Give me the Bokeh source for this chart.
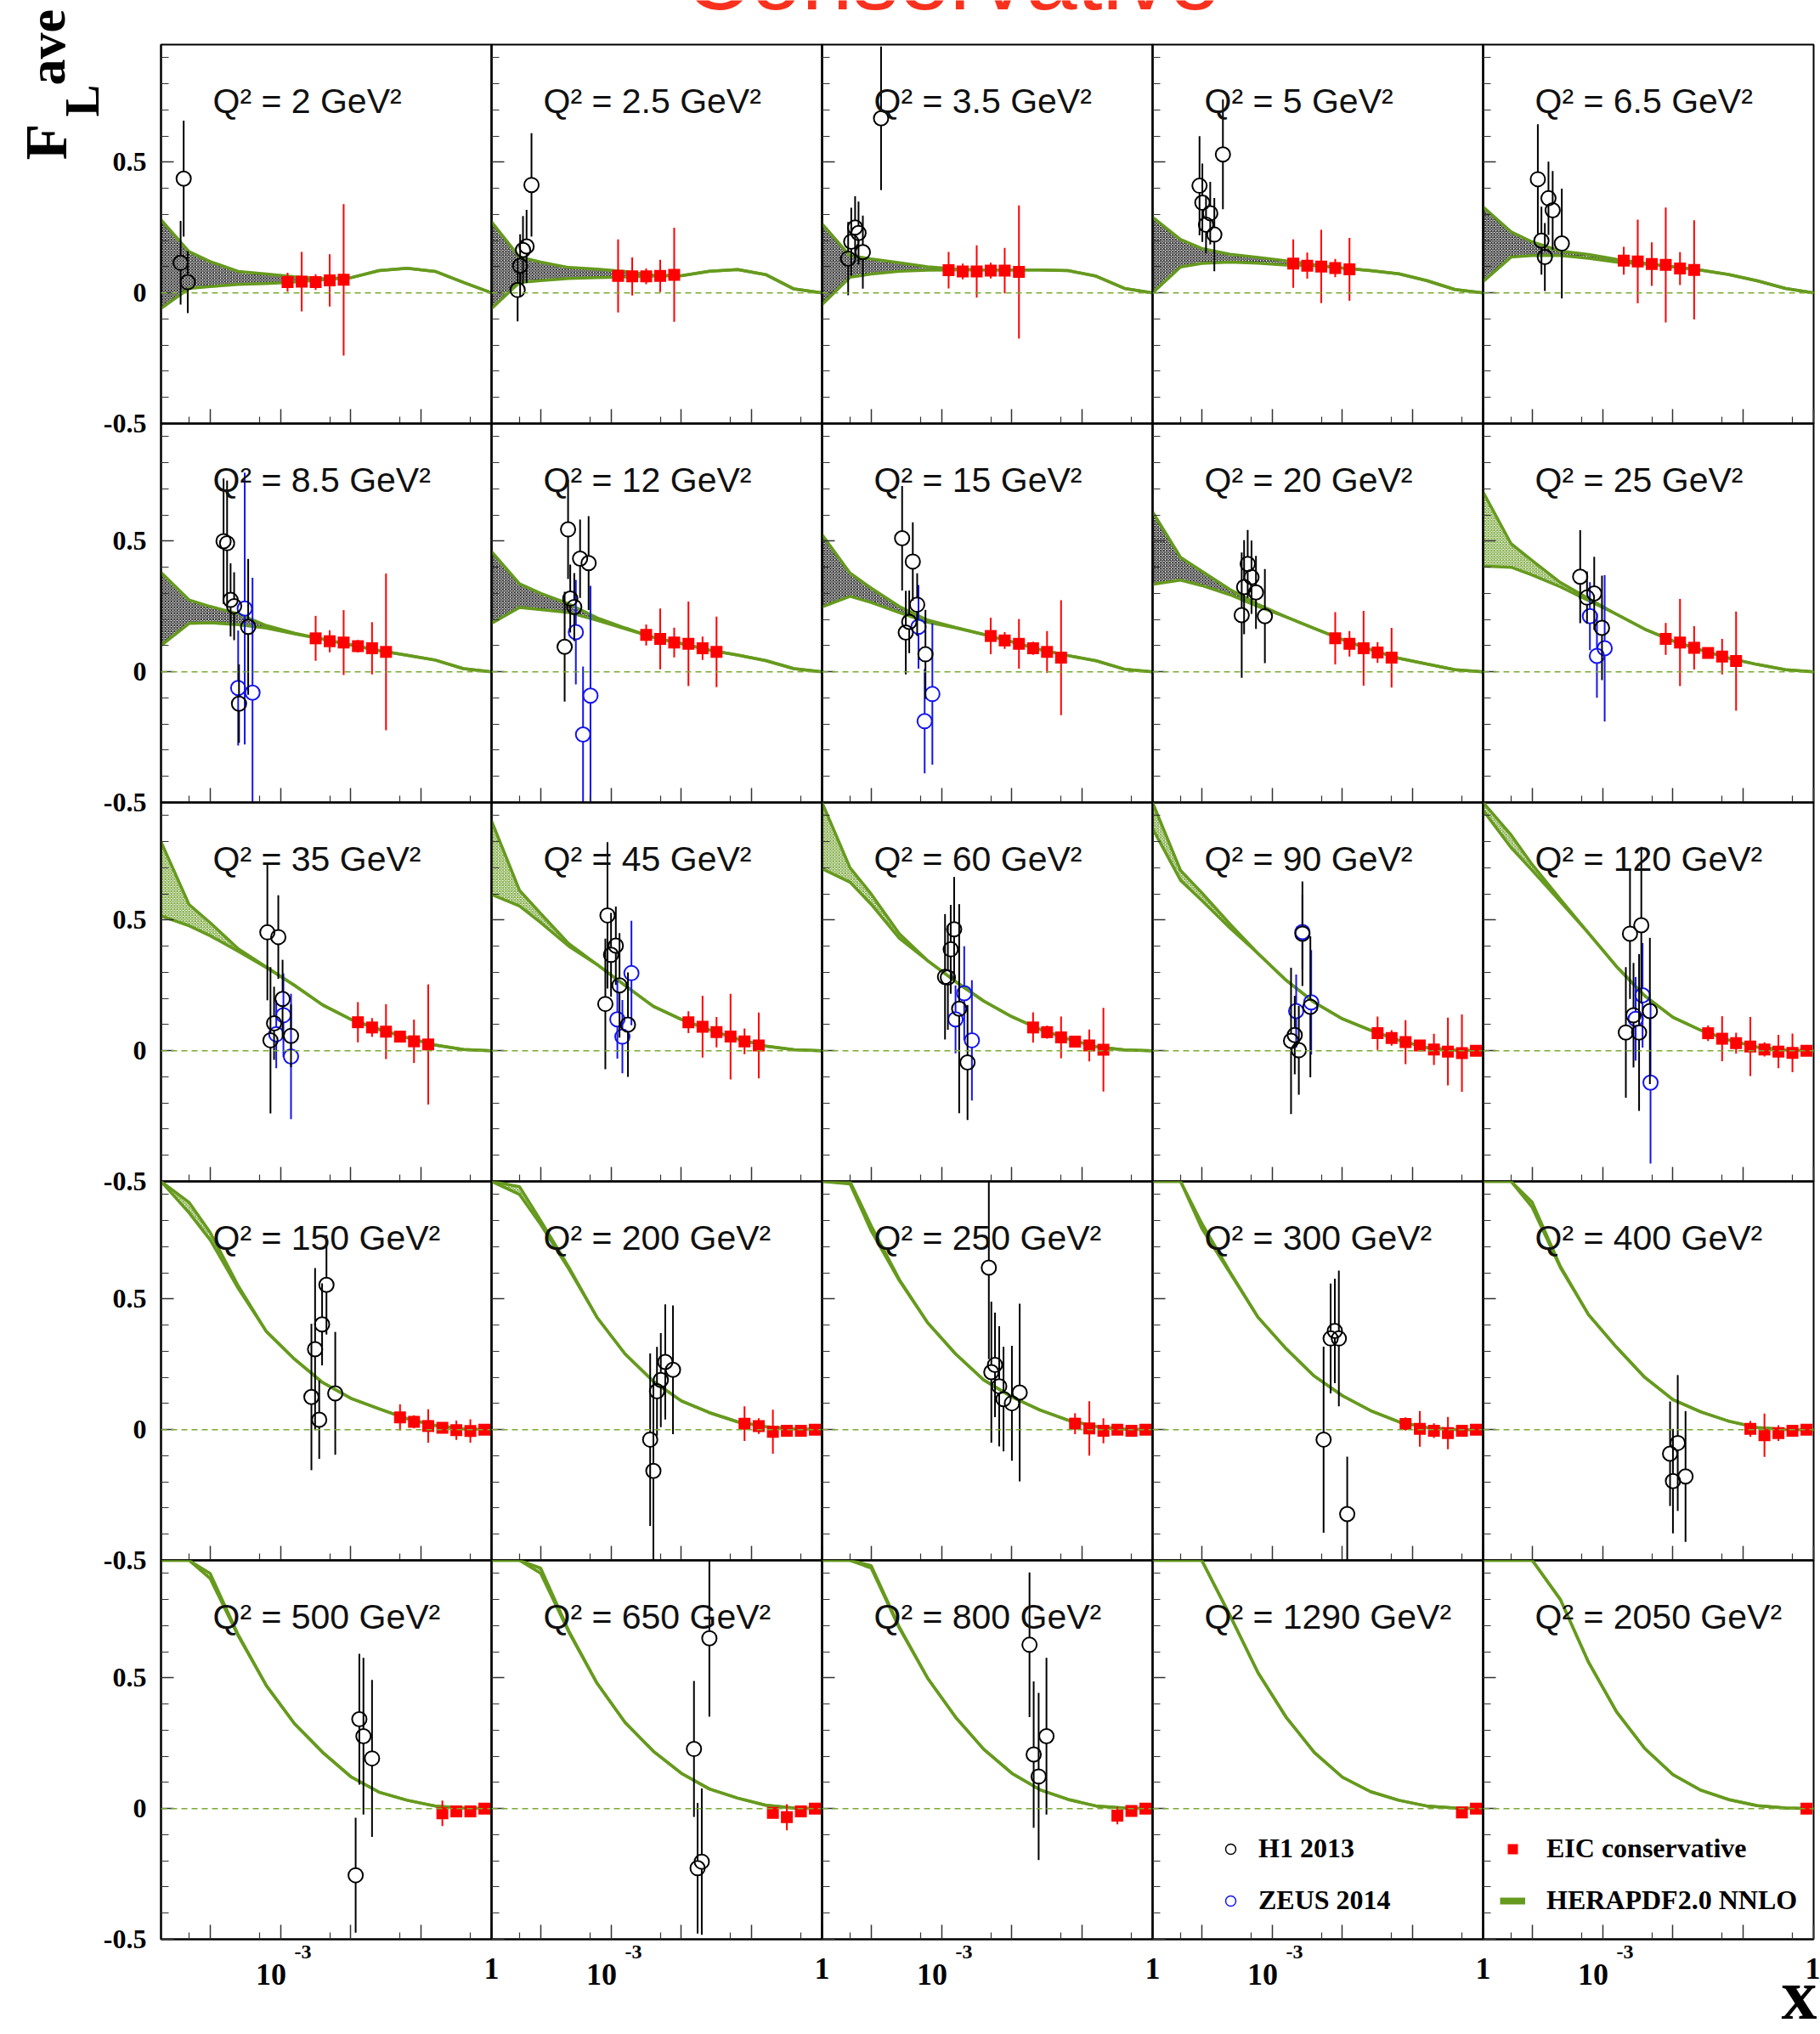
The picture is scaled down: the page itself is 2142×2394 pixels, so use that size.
import numpy as np
from bokeh.plotting import figure
from bokeh.layouts import column, row
from bokeh.models import Range1d, FixedTicker, Span, Label, Legend, LegendItem
from bokeh.embed import file_html
from bokeh.resources import INLINE

# ---------------- data ----------------
Q2 = [2, 2.5, 3.5, 5, 6.5, 8.5, 12, 15, 20, 25, 35, 45, 60, 90, 120,
      150, 200, 250, 300, 400, 500, 650, 800, 1290, 2050]

# HERAPDF2.0 NNLO band, sampled at these x values
X_GRID = [2.0e-5, 5.0e-5, 1.0e-4, 2.51e-4, 6.31e-4, 1.58e-3, 3.98e-3,
          1.0e-2, 2.51e-2, 6.31e-2, 0.158, 0.398, 1.0]
BAND_LO = [
    [-0.06, 0.017, 0.024, 0.032, 0.036, 0.041, 0.05, 0.058, 0.085, 0.094, 0.082, 0.04, 0.0],
    [-0.06, 0.04, 0.047, 0.055, 0.058, 0.061, 0.064, 0.066, 0.083, 0.089, 0.07, 0.015, 0.0],
    [-0.045, 0.06, 0.072, 0.083, 0.087, 0.088, 0.088, 0.088, 0.088, 0.085, 0.064, 0.017, 0.0],
    [0.0, 0.099, 0.113, 0.118, 0.114, 0.106, 0.104, 0.095, 0.085, 0.073, 0.047, 0.013, 0.0],
    [0.043, 0.137, 0.143, 0.143, 0.132, 0.118, 0.11, 0.1, 0.087, 0.07, 0.046, 0.017, 0.0],
    [0.1, 0.185, 0.188, 0.18, 0.167, 0.145, 0.125, 0.103, 0.081, 0.063, 0.045, 0.012, 0.0],
    [0.185, 0.246, 0.238, 0.227, 0.197, 0.165, 0.132, 0.108, 0.083, 0.064, 0.043, 0.012, 0.0],
    [0.248, 0.289, 0.265, 0.226, 0.19, 0.168, 0.143, 0.115, 0.085, 0.062, 0.042, 0.01, 0.0],
    [0.335, 0.351, 0.33, 0.295, 0.25, 0.21, 0.166, 0.123, 0.085, 0.052, 0.03, 0.008, 0.0],
    [0.405, 0.4, 0.37, 0.325, 0.272, 0.22, 0.163, 0.118, 0.083, 0.052, 0.028, 0.008, 0.0],
    [0.516, 0.478, 0.44, 0.38, 0.318, 0.25, 0.175, 0.12, 0.082, 0.05, 0.022, 0.005, 0.0],
    [0.598, 0.554, 0.49, 0.4, 0.33, 0.25, 0.17, 0.12, 0.08, 0.045, 0.018, 0.004, 0.0],
    [0.696, 0.645, 0.56, 0.43, 0.345, 0.265, 0.19, 0.13, 0.082, 0.045, 0.015, 0.003, 0.0],
    [0.85, 0.652, 0.575, 0.47, 0.372, 0.27, 0.185, 0.122, 0.078, 0.04, 0.012, 0.002, 0.0],
    [0.92, 0.777, 0.69, 0.57, 0.45, 0.322, 0.21, 0.128, 0.078, 0.04, 0.014, 0.003, 0.0],
    [0.95, 0.83, 0.726, 0.54, 0.375, 0.27, 0.18, 0.12, 0.08, 0.042, 0.016, 0.003, 0.0],
    [0.95, 0.9, 0.785, 0.615, 0.43, 0.29, 0.185, 0.11, 0.065, 0.03, 0.011, 0.003, 0.0],
    [0.95, 0.94, 0.76, 0.57, 0.41, 0.29, 0.19, 0.125, 0.075, 0.036, 0.012, 0.002, 0.0],
    [0.95, 0.95, 0.77, 0.6, 0.43, 0.31, 0.205, 0.13, 0.073, 0.03, 0.008, 0.001, 0.0],
    [0.95, 0.95, 0.85, 0.62, 0.44, 0.315, 0.2, 0.115, 0.068, 0.032, 0.008, 0.001, 0.0],
    [0.95, 0.95, 0.88, 0.66, 0.47, 0.325, 0.215, 0.122, 0.063, 0.032, 0.01, 0.002, 0.0],
    [0.95, 0.95, 0.9, 0.675, 0.48, 0.33, 0.22, 0.135, 0.075, 0.04, 0.013, 0.002, 0.0],
    [0.95, 0.95, 0.92, 0.69, 0.5, 0.35, 0.227, 0.135, 0.072, 0.035, 0.01, 0.002, 0.0],
    [0.95, 0.95, 0.95, 0.74, 0.52, 0.35, 0.215, 0.12, 0.065, 0.032, 0.01, 0.002, 0.0],
    [0.95, 0.95, 0.95, 0.8, 0.56, 0.37, 0.23, 0.13, 0.07, 0.034, 0.011, 0.002, 0.0],
]
BAND_HI = [
    [0.28, 0.158, 0.12, 0.082, 0.072, 0.062, 0.054, 0.058, 0.085, 0.094, 0.082, 0.04, 0.0],
    [0.272, 0.137, 0.118, 0.097, 0.091, 0.082, 0.068, 0.066, 0.083, 0.089, 0.07, 0.015, 0.0],
    [0.264, 0.142, 0.13, 0.115, 0.1, 0.092, 0.088, 0.088, 0.088, 0.085, 0.064, 0.017, 0.0],
    [0.29, 0.204, 0.17, 0.148, 0.136, 0.123, 0.108, 0.095, 0.085, 0.073, 0.047, 0.013, 0.0],
    [0.329, 0.234, 0.195, 0.16, 0.147, 0.128, 0.114, 0.1, 0.087, 0.07, 0.046, 0.017, 0.0],
    [0.38, 0.275, 0.25, 0.222, 0.177, 0.148, 0.125, 0.103, 0.081, 0.063, 0.045, 0.012, 0.0],
    [0.46, 0.337, 0.3, 0.26, 0.207, 0.168, 0.132, 0.108, 0.083, 0.064, 0.043, 0.012, 0.0],
    [0.525, 0.378, 0.32, 0.25, 0.198, 0.17, 0.143, 0.115, 0.085, 0.062, 0.042, 0.01, 0.0],
    [0.612, 0.438, 0.385, 0.315, 0.258, 0.21, 0.166, 0.123, 0.085, 0.052, 0.03, 0.008, 0.0],
    [0.688, 0.49, 0.425, 0.342, 0.28, 0.22, 0.163, 0.118, 0.083, 0.052, 0.028, 0.008, 0.0],
    [0.8, 0.56, 0.49, 0.39, 0.32, 0.25, 0.175, 0.12, 0.082, 0.05, 0.022, 0.005, 0.0],
    [0.88, 0.614, 0.525, 0.41, 0.33, 0.25, 0.17, 0.12, 0.08, 0.045, 0.018, 0.004, 0.0],
    [0.95, 0.7, 0.6, 0.448, 0.345, 0.265, 0.19, 0.13, 0.082, 0.045, 0.015, 0.003, 0.0],
    [0.95, 0.69, 0.605, 0.485, 0.372, 0.27, 0.185, 0.122, 0.078, 0.04, 0.012, 0.002, 0.0],
    [0.95, 0.826, 0.712, 0.58, 0.45, 0.322, 0.21, 0.128, 0.078, 0.04, 0.014, 0.003, 0.0],
    [0.95, 0.87, 0.755, 0.55, 0.375, 0.27, 0.18, 0.12, 0.08, 0.042, 0.016, 0.003, 0.0],
    [0.95, 0.93, 0.8, 0.622, 0.43, 0.29, 0.185, 0.11, 0.065, 0.03, 0.011, 0.003, 0.0],
    [0.95, 0.95, 0.78, 0.575, 0.41, 0.29, 0.19, 0.125, 0.075, 0.036, 0.012, 0.002, 0.0],
    [0.95, 0.95, 0.79, 0.605, 0.43, 0.31, 0.205, 0.13, 0.073, 0.03, 0.008, 0.001, 0.0],
    [0.95, 0.95, 0.87, 0.625, 0.44, 0.315, 0.2, 0.115, 0.068, 0.032, 0.008, 0.001, 0.0],
    [0.95, 0.95, 0.9, 0.665, 0.47, 0.325, 0.215, 0.122, 0.063, 0.032, 0.01, 0.002, 0.0],
    [0.95, 0.95, 0.92, 0.68, 0.48, 0.33, 0.22, 0.135, 0.075, 0.04, 0.013, 0.002, 0.0],
    [0.95, 0.95, 0.93, 0.695, 0.5, 0.35, 0.227, 0.135, 0.072, 0.035, 0.01, 0.002, 0.0],
    [0.95, 0.95, 0.95, 0.74, 0.52, 0.35, 0.215, 0.12, 0.065, 0.032, 0.01, 0.002, 0.0],
    [0.95, 0.95, 0.95, 0.8, 0.56, 0.37, 0.23, 0.13, 0.07, 0.034, 0.011, 0.002, 0.0],
]

# H1 2013 points (x, F_L, error) per panel
H1_X = [
    [4.2e-5, 3.8e-5, 4.8e-5],
    [7.4e-5, 6.3e-5, 5.6e-5, 5.1e-5, 4.7e-5],
    [1.38e-4, 4.7e-5, 5.2e-5, 5.9e-5, 6.6e-5, 7.6e-5],
    [9.3e-5, 1.02e-4, 1.15e-4, 1.32e-4, 1.51e-4, 2.0e-4],
    [1.2e-4, 1.35e-4, 1.51e-4, 1.7e-4, 1.95e-4, 2.63e-4],
    [1.55e-4, 1.74e-4, 1.95e-4, 2.19e-4, 3.47e-4, 2.57e-4],
    [2.45e-4, 3.63e-4, 4.8e-4, 2.63e-4, 3.0e-4, 2.19e-4],
    [2.75e-4, 3.9e-4, 4.5e-4, 3.47e-4, 3.1e-4, 5.9e-4],
    [4.5e-4, 5.1e-4, 4.0e-4, 5.9e-4, 3.7e-4, 7.9e-4],
    [4.8e-4, 7.6e-4, 6.0e-4, 9.8e-4],
    [6.5e-4, 9.3e-4, 1.07e-3, 8.1e-4, 7.2e-4, 1.41e-3],
    [8.9e-4, 1.17e-3, 1.0e-3, 1.32e-3, 8.3e-4, 1.74e-3],
    [1.51e-3, 1.35e-3, 1.12e-3, 1.23e-3, 1.78e-3, 2.34e-3],
    [2.7e-3, 3.5e-3, 2.1e-3, 1.86e-3, 2.4e-3],
    [3.55e-3, 2.45e-3, 2.75e-3, 2.14e-3, 3.3e-3, 4.7e-3],
    [4.5e-3, 3.9e-3, 3.1e-3, 2.75e-3, 3.55e-3, 6.0e-3],
    [5.9e-3, 7.6e-3, 5.1e-3, 4.5e-3, 3.6e-3, 4.0e-3],
    [4.7e-3, 5.75e-3, 5.1e-3, 6.6e-3, 7.6e-3, 1.0e-2, 1.29e-2],
    [7.8e-3, 6.8e-3, 8.9e-3, 5.4e-3, 1.17e-2],
    [1.17e-2, 9.1e-3, 1.0e-2, 1.51e-2],
    [1.32e-2, 1.51e-2, 2.0e-2, 1.17e-2],
    [2.5e-2, 1.51e-2, 1.95e-2, 1.7e-2],
    [1.78e-2, 3.1e-2, 2.04e-2, 2.4e-2],
    [], [],
]
H1_Y = [
    [0.437, 0.115, 0.041],
    [0.413, 0.178, 0.164, 0.104, 0.011],
    [0.668, 0.131, 0.196, 0.25, 0.229, 0.156],
    [0.41, 0.345, 0.261, 0.305, 0.223, 0.53],
    [0.435, 0.2, 0.137, 0.362, 0.316, 0.189],
    [0.5, 0.492, 0.275, 0.251, 0.172, -0.122],
    [0.545, 0.433, 0.416, 0.28, 0.248, 0.096],
    [0.511, 0.422, 0.257, 0.191, 0.15, 0.067],
    [0.413, 0.362, 0.324, 0.304, 0.217, 0.213],
    [0.364, 0.3, 0.284, 0.168],
    [0.453, 0.435, 0.198, 0.105, 0.04, 0.057],
    [0.518, 0.402, 0.367, 0.25, 0.179, 0.1],
    [0.465, 0.388, 0.283, 0.28, 0.161, -0.045],
    [0.448, 0.168, 0.06, 0.038, 0.002],
    [0.48, 0.448, 0.136, 0.07, 0.07, 0.152],
    [0.554, 0.403, 0.308, 0.125, 0.038, 0.139],
    [0.259, 0.229, 0.19, 0.147, -0.038, -0.158],
    [0.62, 0.248, 0.22, 0.166, 0.117, 0.101, 0.142],
    [0.378, 0.349, 0.349, -0.038, -0.323],
    [-0.051, -0.092, -0.197, -0.179],
    [0.342, 0.277, 0.192, -0.255],
    [0.652, 0.228, -0.203, -0.228],
    [0.627, 0.277, 0.207, 0.123],
    [], [],
]
H1_E = [
    [0.222, 0.16, 0.118],
    [0.198, 0.14, 0.13, 0.12, 0.12],
    [0.275, 0.14, 0.13, 0.12, 0.12, 0.14],
    [0.19, 0.15, 0.11, 0.12, 0.14, 0.21],
    [0.21, 0.13, 0.13, 0.14, 0.15, 0.21],
    [0.24, 0.24, 0.14, 0.13, 0.26, 0.15],
    [0.19, 0.15, 0.18, 0.13, 0.13, 0.21],
    [0.2, 0.15, 0.12, 0.12, 0.16, 0.17],
    [0.13, 0.14, 0.18, 0.14, 0.24, 0.18],
    [0.178, 0.14, 0.1, 0.2],
    [0.26, 0.16, 0.15, 0.14, 0.28, 0.12],
    [0.28, 0.15, 0.16, 0.2, 0.25, 0.2],
    [0.2, 0.17, 0.24, 0.2, 0.4, 0.22],
    [0.2, 0.27, 0.15, 0.28, 0.17],
    [0.3, 0.25, 0.2, 0.25, 0.3, 0.28],
    [0.19, 0.157, 0.31, 0.28, 0.15, 0.235],
    [0.22, 0.246, 0.18, 0.17, 0.33, 0.35],
    [0.35, 0.2, 0.27, 0.23, 0.2, 0.22, 0.34],
    [0.2, 0.21, 0.26, 0.356, 0.22],
    [0.26, 0.2, 0.2, 0.25],
    [0.25, 0.3, 0.3, 0.22],
    [0.3, 0.26, 0.28, 0.25],
    [0.277, 0.3, 0.28, 0.32],
    [], [],
]

# ZEUS 2014 points
ZEUS_X = [[], [], [], [], [],
          [3.1e-4, 2.5e-4, 4.0e-4],
          [3.16e-4, 4.0e-4, 5.1e-4],
          [4.7e-4, 5.75e-4, 7.4e-4],
          [],
          [6.6e-4, 8.3e-4, 1.07e-3],
          [1.1e-3, 8.7e-4, 1.41e-3],
          [1.95e-3, 1.23e-3, 1.45e-3],
          [2.1e-3, 1.58e-3, 2.7e-3],
          [2.7e-3, 2.2e-3, 3.6e-3],
          [3.7e-3, 2.95e-3, 4.8e-3],
          [], [], [], [], [], [], [], [], [], []]
ZEUS_Y = [[], [], [], [], [],
          [0.242, -0.062, -0.08],
          [0.152, -0.24, -0.091],
          [0.172, -0.189, -0.085],
          [],
          [0.213, 0.061, 0.09],
          [0.136, 0.063, -0.022],
          [0.297, 0.12, 0.054],
          [0.22, 0.12, 0.04],
          [0.454, 0.152, 0.185],
          [0.212, 0.122, -0.122],
          [], [], [], [], [], [], [], [], [], []]
ZEUS_E = [[], [], [], [], [],
          [0.52, 0.22, 0.44],
          [0.2, 0.26, 0.42],
          [0.16, 0.2, 0.27],
          [],
          [0.13, 0.16, 0.28],
          [0.16, 0.13, 0.24],
          [0.2, 0.15, 0.14],
          [0.18, 0.13, 0.23],
          [0.144, 0.14, 0.2],
          [0.2, 0.16, 0.31],
          [], [], [], [], [], [], [], [], [], []]

# EIC conservative pseudo-data
EIC_X = [
    [1.26e-3, 2.0e-3, 3.16e-3, 5.0e-3, 7.9e-3],
    [1.26e-3, 2.0e-3, 3.16e-3, 5.0e-3, 7.9e-3],
    [1.26e-3, 2.0e-3, 3.16e-3, 5.0e-3, 7.9e-3, 1.26e-2],
    [2.0e-3, 3.16e-3, 5.0e-3, 7.9e-3, 1.26e-2],
    [2.0e-3, 3.16e-3, 5.0e-3, 7.9e-3, 1.26e-2, 2.0e-2],
    [3.16e-3, 5.0e-3, 7.9e-3, 1.26e-2, 2.0e-2, 3.16e-2],
    [3.16e-3, 5.0e-3, 7.9e-3, 1.26e-2, 2.0e-2, 3.16e-2],
    [5.0e-3, 7.9e-3, 1.26e-2, 2.0e-2, 3.16e-2, 5.0e-2],
    [7.9e-3, 1.26e-2, 2.0e-2, 3.16e-2, 5.0e-2],
    [7.9e-3, 1.26e-2, 2.0e-2, 3.16e-2, 5.0e-2, 7.9e-2],
    [1.26e-2, 2.0e-2, 3.16e-2, 5.0e-2, 7.9e-2, 0.126],
    [1.26e-2, 2.0e-2, 3.16e-2, 5.0e-2, 7.9e-2, 0.126],
    [2.0e-2, 3.16e-2, 5.0e-2, 7.9e-2, 0.126, 0.2],
    [3.16e-2, 5.0e-2, 7.9e-2, 0.126, 0.2, 0.316, 0.5, 0.79],
    [3.16e-2, 5.0e-2, 7.9e-2, 0.126, 0.2, 0.316, 0.5, 0.79],
    [5.0e-2, 7.9e-2, 0.126, 0.2, 0.316, 0.5, 0.79],
    [7.9e-2, 0.126, 0.2, 0.316, 0.5, 0.79],
    [7.9e-2, 0.126, 0.2, 0.316, 0.5, 0.79],
    [7.9e-2, 0.126, 0.2, 0.316, 0.5, 0.79],
    [0.126, 0.2, 0.316, 0.5, 0.79],
    [0.2, 0.316, 0.5, 0.79],
    [0.2, 0.316, 0.5, 0.79],
    [0.316, 0.5, 0.79],
    [0.5, 0.79],
    [0.79],
]
EIC_Y = [
    [0.041, 0.043, 0.041, 0.048, 0.05],
    [0.065, 0.063, 0.063, 0.065, 0.069],
    [0.087, 0.082, 0.082, 0.085, 0.085, 0.08],
    [0.112, 0.104, 0.101, 0.095, 0.09],
    [0.123, 0.12, 0.11, 0.107, 0.093, 0.088],
    [0.128, 0.117, 0.112, 0.098, 0.09, 0.076],
    [0.141, 0.126, 0.112, 0.107, 0.09, 0.076],
    [0.137, 0.12, 0.107, 0.09, 0.076, 0.054],
    [0.128, 0.107, 0.09, 0.074, 0.054],
    [0.126, 0.112, 0.092, 0.072, 0.058, 0.041],
    [0.109, 0.089, 0.073, 0.054, 0.036, 0.024],
    [0.109, 0.092, 0.071, 0.054, 0.036, 0.02],
    [0.089, 0.071, 0.051, 0.035, 0.02, 0.004],
    [0.067, 0.049, 0.033, 0.02, 0.005, -0.003, -0.009, 0.0],
    [0.067, 0.046, 0.029, 0.016, 0.005, -0.003, -0.008, 0.0],
    [0.047, 0.03, 0.014, 0.007, -0.002, -0.005, 0.0],
    [0.023, 0.014, -0.008, -0.004, -0.004, 0.0],
    [0.023, 0.005, -0.004, 0.0, -0.004, 0.0],
    [0.022, 0.003, -0.004, -0.013, -0.004, 0.0],
    [0.003, -0.021, -0.013, -0.004, 0.0],
    [-0.018, -0.011, -0.011, 0.0],
    [-0.016, -0.033, -0.011, 0.0],
    [-0.027, -0.009, 0.0],
    [-0.015, 0.0],
    [0.0],
]
EIC_E = [
    [0.036, 0.114, 0.03, 0.1, 0.29],
    [0.14, 0.073, 0.03, 0.062, 0.18],
    [0.07, 0.03, 0.1, 0.03, 0.087, 0.255],
    [0.093, 0.05, 0.14, 0.035, 0.12],
    [0.053, 0.16, 0.083, 0.22, 0.063, 0.19],
    [0.086, 0.042, 0.124, 0.024, 0.1, 0.3],
    [0.04, 0.116, 0.057, 0.162, 0.045, 0.135],
    [0.07, 0.032, 0.095, 0.025, 0.08, 0.22],
    [0.1, 0.049, 0.143, 0.04, 0.114],
    [0.061, 0.167, 0.083, 0.02, 0.068, 0.19],
    [0.077, 0.036, 0.105, 0.02, 0.083, 0.23],
    [0.042, 0.118, 0.058, 0.164, 0.049, 0.126],
    [0.058, 0.025, 0.08, 0.02, 0.061, 0.16],
    [0.064, 0.03, 0.084, 0.02, 0.06, 0.13, 0.148, 0.02],
    [0.03, 0.086, 0.04, 0.113, 0.027, 0.064, 0.074, 0.02],
    [0.05, 0.025, 0.064, 0.02, 0.037, 0.045, 0.02],
    [0.066, 0.03, 0.084, 0.02, 0.02, 0.02],
    [0.04, 0.104, 0.048, 0.02, 0.02, 0.02],
    [0.025, 0.068, 0.028, 0.062, 0.02, 0.02],
    [0.03, 0.083, 0.03, 0.02, 0.02],
    [0.049, 0.02, 0.02, 0.02],
    [0.02, 0.05, 0.02, 0.02],
    [0.033, 0.02, 0.02],
    [0.02, 0.02],
    [0.02],
]

X_MAJOR = [1e-4, 1e-3, 1e-2, 1e-1, 1.0]
X_MINOR = [5e-5, 5e-4, 5e-3, 5e-2, 0.5]
Y_MAJOR = [-0.5, 0.0, 0.5]
Y_MINOR = [-0.4, -0.3, -0.2, -0.1, 0.1, 0.2, 0.3, 0.4, 0.6, 0.7, 0.8, 0.9]

# ---------------- styling ----------------
GREEN = "#669a1e"
ZERO_GREEN = "#78aa30"
RED = "#ff0000"
BLUE = "#1414f0"
SERIF = "Liberation Serif"
SANS = "Liberation Sans"
PAGE_W, PAGE_H = 2142, 2394
FW, FH, O = 389, 446, 20
LEFT, TOP, BOTTOM = 189, 52, 111
GAP = 8.5 * 1.45 / FH  # marker radius in data units


def borders(r, c):
    bl = LEFT if c == 0 else O
    br = 8 if c == 4 else O
    bt = TOP if r == 0 else O
    bb = BOTTOM if r == 4 else O
    return bl, br, bt, bb


def open_points(p, xs, ys, es, color):
    xs, ys, es = np.array(xs, float), np.array(ys, float), np.array(es, float)
    g = np.minimum(GAP, es)
    p.segment(x0=xs, y0=ys + g, x1=xs, y1=ys + es, line_color=color, line_width=2)
    p.segment(x0=xs, y0=ys - g, x1=xs, y1=ys - es, line_color=color, line_width=2)
    p.scatter(x=xs, y=ys, marker="circle", size=17, fill_alpha=0,
              line_color=color, line_width=2)


def make_panel(i):
    r, c = divmod(i, 5)
    bl, br, bt, bb = borders(r, c)
    ml = 0 if c == 0 else -(borders(r, c - 1)[1] + bl)
    mt = 0 if r == 0 else -(borders(r - 1, c)[3] + bt)
    p = figure(frame_width=FW, frame_height=FH, x_axis_type="log",
               x_range=Range1d(2e-5, 1.0), y_range=Range1d(-0.5, 0.95),
               output_backend="svg", toolbar_location=None,
               min_border_left=bl, min_border_right=br,
               min_border_top=bt, min_border_bottom=bb,
               background_fill_alpha=0, border_fill_alpha=0,
               outline_line_color="black", outline_line_width=2)
    p.margin = (mt, 0, 0, ml)
    p.xgrid.visible = False
    p.ygrid.visible = False

    xa, ya = p.xaxis[0], p.yaxis[0]
    xa.ticker = FixedTicker(ticks=X_MAJOR, minor_ticks=X_MINOR)
    ya.ticker = FixedTicker(ticks=Y_MAJOR, minor_ticks=Y_MINOR)
    for ax, mj, mn in ((xa, 17, 8), (ya, 15, 9)):
        ax.major_tick_in = mj
        ax.major_tick_out = 0
        ax.minor_tick_in = mn
        ax.minor_tick_out = 0
        ax.major_tick_line_color = "#333333"
        ax.minor_tick_line_color = "#333333"
        ax.major_tick_line_width = 1.5
        ax.minor_tick_line_width = 1.2
        ax.axis_line_color = "black"
        ax.axis_line_width = 2
    if r == 4:
        xa.major_label_overrides = {t: ("1" if t == 1.0 else "") for t in X_MAJOR}
        xa.major_label_text_font = SERIF
        xa.major_label_text_font_style = "bold"
        xa.major_label_text_font_size = "36px"
        xa.major_label_text_color = "black"
        xa.major_label_standoff = 22
    else:
        xa.major_label_overrides = {t: "" for t in X_MAJOR}
        xa.major_label_text_font_size = "0px"
        xa.major_label_standoff = 0
    if c == 0:
        ya.major_label_overrides = {-0.5: "-0.5", 0.0: "0", 0.5: "0.5"}
        ya.major_label_text_font = SERIF
        ya.major_label_text_font_style = "bold"
        ya.major_label_text_font_size = "32px"
        ya.major_label_text_color = "black"
        ya.major_label_standoff = 17
    else:
        ya.major_label_overrides = {t: "" for t in Y_MAJOR}
        ya.major_label_text_font_size = "0px"
        ya.major_label_standoff = 0

    # zero line
    p.add_layout(Span(location=0, dimension="width", line_color=ZERO_GREEN,
                      line_dash="7 5", line_width=1.5))

    # HERAPDF band
    hatch = "black" if Q2[i] <= 20 else GREEN
    p.varea(x=X_GRID, y1=BAND_LO[i], y2=BAND_HI[i], fill_alpha=0,
            hatch_pattern="x", hatch_color=hatch, hatch_scale=3.5,
            hatch_weight=1.0, hatch_alpha=1.0)
    p.line(x=X_GRID, y=BAND_HI[i], line_color=GREEN, line_width=3.5)
    p.line(x=X_GRID, y=BAND_LO[i], line_color=GREEN, line_width=3.5)

    # EIC pseudo-data
    ex, ey, ee = (np.array(a, float) for a in (EIC_X[i], EIC_Y[i], EIC_E[i]))
    p.segment(x0=ex, y0=ey - ee, x1=ex, y1=ey + ee, line_color=RED, line_width=2)
    p.scatter(x=ex, y=ey, marker="square", size=14, fill_color=RED,
              line_color=RED, line_width=0)

    # HERA data
    open_points(p, ZEUS_X[i], ZEUS_Y[i], ZEUS_E[i], BLUE)
    open_points(p, H1_X[i], H1_Y[i], H1_E[i], "black")

    qs = f"{Q2[i]:g}"
    p.add_layout(Label(x=61, y=380, x_units="screen", y_units="screen",
                       text=f"Q² = {qs} GeV²", text_font=SANS,
                       text_font_size="41px", text_color="#111111",
                       text_align="left", text_baseline="middle"))

    leg_style = dict(background_fill_alpha=0, border_line_alpha=0, padding=0,
                     margin=0, spacing=24, glyph_width=30, glyph_height=30,
                     label_height=30, label_text_font=SERIF,
                     label_text_font_style="bold", label_text_font_size="32px",
                     label_text_color="black")
    if i == 23:
        # legend proxies (single point placed outside the visible range)
        rh = p.scatter(x=[1e-9], y=[-9.0], marker="circle", size=17, fill_alpha=0,
                       line_color="black", line_width=1.5)
        rz = p.scatter(x=[1e-9], y=[-9.0], marker="circle", size=17, fill_alpha=0,
                       line_color=BLUE, line_width=1.5)
        p.add_layout(Legend(items=[LegendItem(label="H1 2013", renderers=[rh]),
                                   LegendItem(label="ZEUS 2014", renderers=[rz])],
                            location=(77, 27), label_standoff=18, **leg_style))
    if i == 24:
        re_ = p.scatter(x=[1e-9], y=[-9.0], marker="square", size=17,
                        fill_color=RED, line_color=RED, line_width=0)
        rl = p.line(x=[1e-9, 2e-9], y=[-9.0, -9.0], line_color=GREEN, line_width=8)
        p.add_layout(Legend(items=[LegendItem(label="EIC conservative", renderers=[re_]),
                                   LegendItem(label="HERAPDF2.0 NNLO", renderers=[rl])],
                            location=(20, 27), label_standoff=25, **leg_style))
    return p


# transparent full-page layer for the texts that sit outside the panels
ov = figure(width=PAGE_W, height=PAGE_H, x_range=Range1d(0, PAGE_W),
            y_range=Range1d(PAGE_H, 0), x_axis_location=None, y_axis_location=None,
            toolbar_location=None, output_backend="svg", min_border=0,
            outline_line_color=None, background_fill_alpha=0, border_fill_alpha=0)
ov.margin = (0, 0, -PAGE_H, 0)
ov.grid.visible = False


def page_label(x, y, text, size, angle=0, align="left", font=SERIF, style="bold",
               color="black"):
    ov.add_layout(Label(x=x, y=y, text=text, angle=angle, angle_units="deg",
                        text_font=font, text_font_style=style,
                        text_font_size=f"{size}px", text_color=color,
                        text_align=align, text_baseline="middle"))


MID = 0.36  # distance from baseline to text middle, in em
# title (cut by the top edge, as in the original)
page_label(1120, 12 - MID * 108, "Conservative", 108, align="center",
           font=SANS, style="normal", color="#f8311e")
# y-axis title F_L^ave (rotated)
page_label(79 - MID * 70, 188, "F", 70, angle=90)
page_label(117 - MID * 57, 137, "L", 57, angle=90)
page_label(77 - MID * 62, 100, "ave", 62, angle=90)
# x-axis title (kept just inside the bottom edge)
page_label(2096, 2377 - MID * 84, "x", 84)
# 10^-3 tick labels under every column
for c in range(5):
    x0 = LEFT + c * FW
    page_label(x0 + 129.5, 2336 - MID * 36, "10", 36, align="center")
    page_label(x0 + 157, 2306 - MID * 24, "-3", 24)

panels = [make_panel(i) for i in range(25)]
rows = [row(panels[5 * r:5 * r + 5], spacing=0) for r in range(5)]
layout = column([ov] + rows, spacing=0)

with open("out.html", "w") as f:
    f.write(file_html(layout, INLINE, title="Conservative F_L"))
